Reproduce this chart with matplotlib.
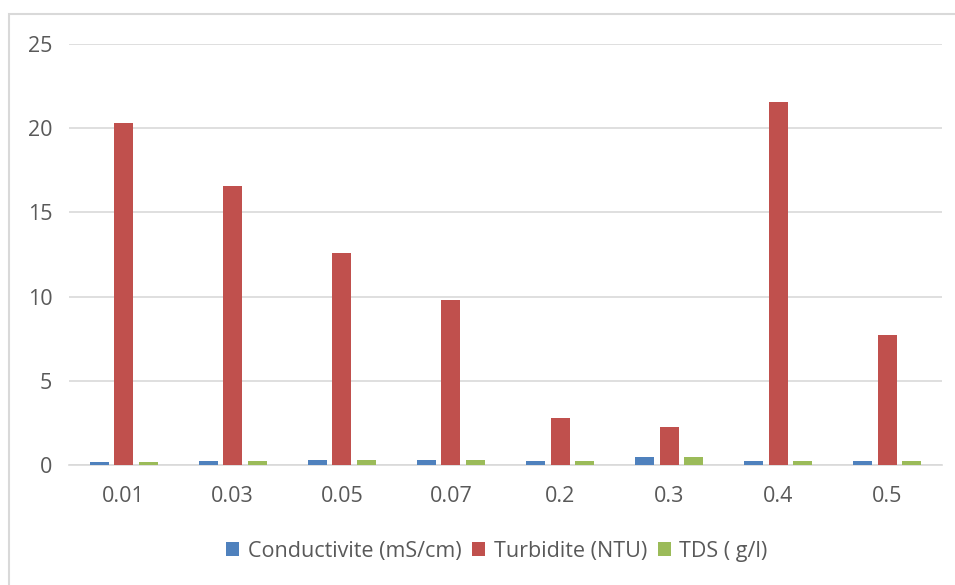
import matplotlib
matplotlib.use("Agg")
import matplotlib.pyplot as plt
import numpy as np
from matplotlib.patches import Rectangle, Patch

categories = ["0.01", "0.03", "0.05", "0.07", "0.2", "0.3", "0.4", "0.5"]
conductivite = [0.2, 0.25, 0.3, 0.3, 0.25, 0.45, 0.25, 0.25]
turbidite = [20.3, 16.57, 12.6, 9.8, 2.8, 2.27, 21.55, 7.72]
tds = [0.2, 0.25, 0.3, 0.3, 0.25, 0.45, 0.25, 0.25]
series_labels = ["Conductivite (mS/cm)", "Turbidite (NTU)", "TDS ( g/l)"]
colors = ["#4F81BD", "#C0504D", "#9BBB59"]

plt.rcParams["font.family"] = ["Open Sans", "DejaVu Sans"]
text_color = "#595959"
grid_color = "#D9D9D9"

W, H = 955, 585
fig = plt.figure(figsize=(W / 100, H / 100), dpi=100)
ax = fig.add_axes([69 / W, 1 - 465 / H, (942 - 69) / W, (465 - 44) / H])

x = np.arange(len(categories))
bw = 0.174
off = 0.2246
for i, (vals, c, lab) in enumerate(zip([conductivite, turbidite, tds], colors, series_labels)):
    ax.bar(x + (i - 1) * off, vals, width=bw, color=c, label=lab, zorder=3)

ax.set_xlim(-0.5, len(categories) - 0.5)
ax.set_ylim(0, 25)
ax.set_yticks([0, 5, 10, 15, 20, 25])
ax.set_xticks(x)
ax.set_xticklabels(categories)
ax.yaxis.grid(True, color=grid_color, linewidth=1.2, zorder=0)
for s in ["top", "right", "left"]:
    ax.spines[s].set_visible(False)
ax.spines["bottom"].set_color(grid_color)
ax.spines["bottom"].set_linewidth(1.2)
ax.tick_params(axis="both", length=0, labelsize=15.5, colors=text_color)
ax.tick_params(axis="y", pad=12)
ax.tick_params(axis="x", pad=15)

handles = [Patch(facecolor=c, label=l) for c, l in zip(colors, series_labels)]
fig.legend(handles=handles, loc="center", bbox_to_anchor=(497 / W, 1 - 551 / H),
           ncol=3, frameon=False, fontsize=15.5, labelcolor=text_color,
           handlelength=0.6, handleheight=0.6, handletextpad=0.4, columnspacing=0.5)

fig.patches.append(Rectangle((9 / W, -0.1), 1.2, 1 - 14 / H + 0.1, transform=fig.transFigure,
                             fill=False, edgecolor=grid_color, linewidth=1.5))

fig.savefig("out.png", dpi=100, facecolor="white")
